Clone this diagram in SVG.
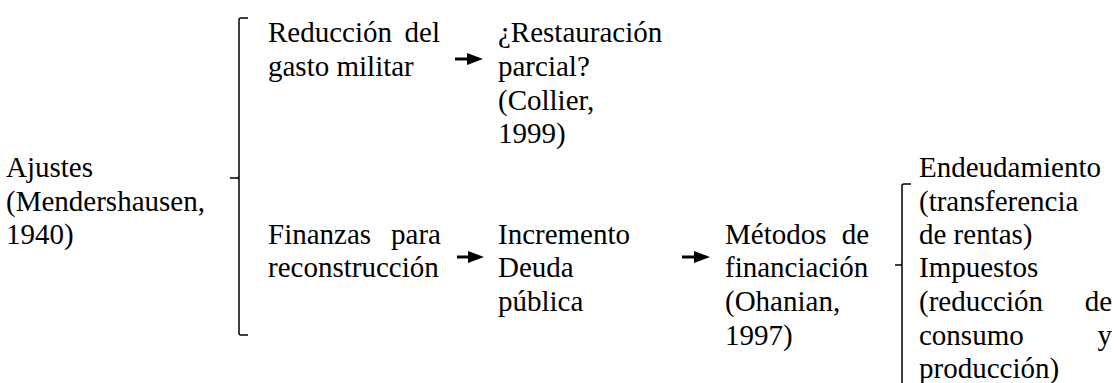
<svg xmlns="http://www.w3.org/2000/svg" width="1116" height="383" viewBox="0 0 1116 383">
<style>
text{font-family:"Liberation Serif","Times New Roman",serif;font-size:29px;fill:#000}
.e{text-anchor:end}
.br{fill:none;stroke:#000;stroke-width:1.5}
.ar{stroke:#000;stroke-width:3;fill:none}
</style>
<defs>
<marker id="ah" viewBox="0 0 16 12" refX="0" refY="6" markerWidth="16" markerHeight="12" markerUnits="userSpaceOnUse" orient="auto">
<path d="M0,0 L16,6 L0,12 z" fill="#000"/>
</marker>
</defs>
<rect width="1116" height="383" fill="#fff"/>
<g id="ajustes">
<text x="6" y="177">Ajustes</text>
<text x="6" y="211">(Mendershausen,</text>
<text x="6" y="244">1940)</text>
</g>
<g id="reduccion">
<text x="268" y="42">Reducción</text><text class="e" x="440" y="42">del</text>
<text x="268" y="76">gasto militar</text>
</g>
<g id="restauracion">
<text x="498" y="42">¿Restauración</text>
<text x="498" y="76">parcial?</text>
<text x="498" y="110">(Collier,</text>
<text x="498" y="143">1999)</text>
</g>
<g id="finanzas">
<text x="268" y="244">Finanzas</text><text class="e" x="441" y="244">para</text>
<text x="268" y="277">reconstrucción</text>
</g>
<g id="incremento">
<text x="498" y="244">Incremento</text>
<text x="498" y="277">Deuda</text>
<text x="498" y="311">pública</text>
</g>
<g id="metodos">
<text x="725" y="244">Métodos</text><text class="e" x="869" y="244">de</text>
<text x="725" y="277">financiación</text>
<text x="725" y="311">(Ohanian,</text>
<text x="725" y="345">1997)</text>
</g>
<g id="endeudamiento">
<text x="919" y="177">Endeudamiento</text>
<text x="919" y="211">(transferencia</text>
<text x="919" y="244">de rentas)</text>
<text x="919" y="277">Impuestos</text>
<text x="919" y="311">(reducción</text><text class="e" x="1112" y="311">de</text>
<text x="919" y="345">consumo</text><text class="e" x="1112" y="345">y</text>
<text x="919" y="378">producción)</text>
</g>
<g id="connectors">
<path class="br" d="M248,18 H241 Q239,18 239,20 V333 Q239,335 241,335 H248 M230,178 H237 Q239,178 239,176 M239,180 Q239,178 237,178"/>
<path class="br" d="M911,184 H904 Q902,184 902,186 V390 M895,265 H900 Q902,265 902,263"/>
<line class="ar" x1="455" y1="59" x2="467" y2="59" marker-end="url(#ah)"/>
<line class="ar" x1="457" y1="257" x2="468" y2="257" marker-end="url(#ah)"/>
<line class="ar" x1="682" y1="257" x2="694" y2="257" marker-end="url(#ah)"/>
</g>
</svg>
